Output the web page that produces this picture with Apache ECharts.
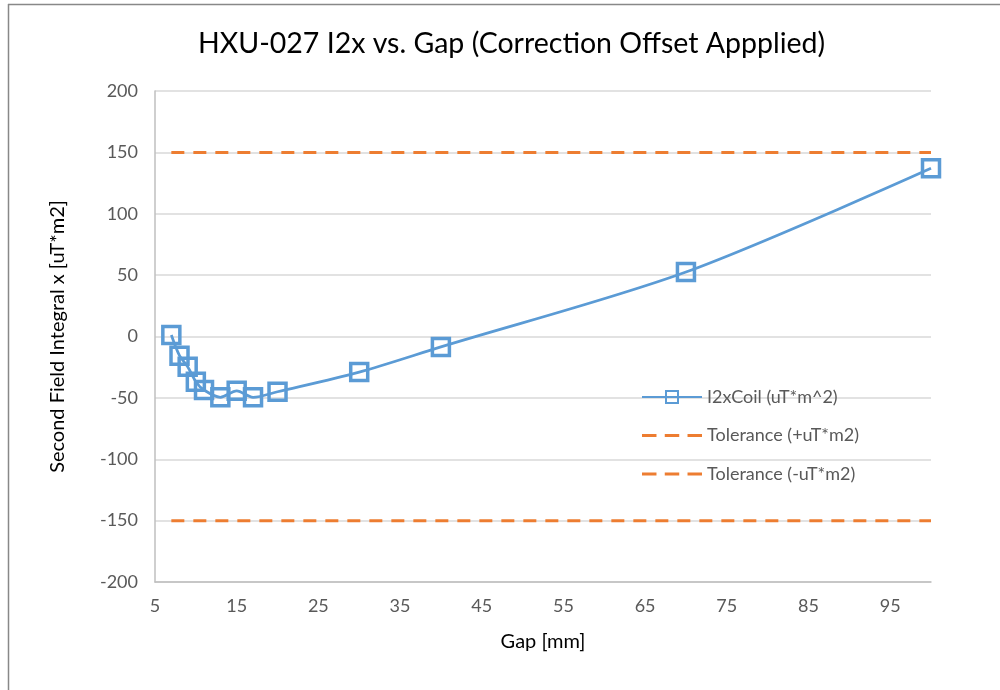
<!DOCTYPE html>
<html>
<head>
<meta charset="utf-8">
<script src="https://cdn.jsdelivr.net/npm/echarts@6/dist/echarts.min.js"></script>
<style>
html,body{margin:0;padding:0;background:#fff;}
#chart{width:1000px;height:690px;}
</style>
</head>
<body>
<div id="chart"></div>
<script>
const gapValues = [7, 8, 9, 10, 11, 13, 15, 17, 20, 30, 40, 70, 100];
const i2xValues = [1.2, -15.6, -24.6, -36.8, -43.6, -49.5, -44.2, -49.5, -45, -29, -8.5, 52.5, 137];
const tolGap = [7, 100];
const tolPlus = [150, 150];
const tolMinus = [-150, -150];
const seriesNames = ['I2xCoil (uT*m^2)', 'Tolerance (+uT*m2)', 'Tolerance (-uT*m2)'];

const FONT = 'Lato';
const chart = echarts.init(document.getElementById('chart'));
const zip = (xs, ys) => xs.map((x, i) => [x, ys[i]]);
const dashIcon = 'path://M0,0h14v3h-14z M22,0h14v3h-14z M44,0h14v3h-14z';

chart.setOption({
  animation: false,
  backgroundColor: '#fff',
  textStyle: { fontFamily: FONT },
  title: {
    text: 'HXU-027 I2x vs. Gap (Correction Offset Appplied)',
    left: 193, top: 24,
    textStyle: { fontFamily: FONT, fontSize: 28.5, fontWeight: 'normal', color: '#000' }
  },
  grid: { left: 155, right: 69, top: 91, bottom: 108 },
  xAxis: {
    type: 'value', min: 5, max: 100, interval: 10,
    name: 'Gap [mm]', nameLocation: 'middle', nameGap: 50,
    nameTextStyle: { fontFamily: FONT, fontSize: 20, color: '#000' },
    axisLine: { show: true, onZero: false, lineStyle: { color: '#bfbfbf', width: 1.5 } },
    axisTick: { show: false },
    splitLine: { show: false },
    axisLabel: {
      fontFamily: FONT, fontSize: 18, color: '#595959', margin: 15,
      formatter: v => ((v - 5) % 10 === 0 && v < 100) ? String(v) : ''
    }
  },
  yAxis: {
    type: 'value', min: -200, max: 200, interval: 50,
    name: 'Second Field Integral x [uT*m2]', nameLocation: 'middle', nameGap: 87,
    nameTextStyle: { fontFamily: FONT, fontSize: 20, color: '#000' },
    axisLine: { show: true, onZero: false, lineStyle: { color: '#bfbfbf', width: 1.5 } },
    axisTick: { show: false },
    splitLine: { show: true, lineStyle: { color: '#d9d9d9', width: 1.5 } },
    axisLabel: { fontFamily: FONT, fontSize: 18, color: '#595959', margin: 17 }
  },
  legend: {
    orient: 'vertical', left: 636, top: 383,
    itemWidth: 60, itemHeight: 15, itemGap: 20.5,
    textStyle: { fontFamily: FONT, fontSize: 18, color: '#595959' },
    data: [
      { name: seriesNames[0] },
      { name: seriesNames[1], icon: dashIcon },
      { name: seriesNames[2], icon: dashIcon }
    ]
  },
  graphic: [
    { type: 'line', shape: { x1: 8, y1: 4.5, x2: 1000, y2: 4.5 }, style: { stroke: '#888', lineWidth: 1.5 } },
    { type: 'line', shape: { x1: 8.5, y1: 4, x2: 8.5, y2: 690 }, style: { stroke: '#888', lineWidth: 1.5 } }
  ],
  series: [
    {
      name: seriesNames[1], type: 'line', data: zip(tolGap, tolPlus),
      symbol: 'none', z: 2,
      lineStyle: { color: '#ED7D31', width: 3, type: [13, 9] },
      itemStyle: { color: '#ED7D31' }
    },
    {
      name: seriesNames[2], type: 'line', data: zip(tolGap, tolMinus),
      symbol: 'none', z: 2,
      lineStyle: { color: '#ED7D31', width: 3, type: [13, 9] },
      itemStyle: { color: '#ED7D31' }
    },
    {
      name: seriesNames[0], type: 'line', data: zip(gapValues, i2xValues),
      smooth: 0.3, symbol: 'rect', symbolSize: 17, showAllSymbol: true, z: 3,
      lineStyle: { color: '#5B9BD5', width: 2.75 },
      itemStyle: { color: 'rgba(255,255,255,0)', borderColor: '#5B9BD5', borderWidth: 3.5 }
    }
  ]
});
</script>
</body>
</html>
